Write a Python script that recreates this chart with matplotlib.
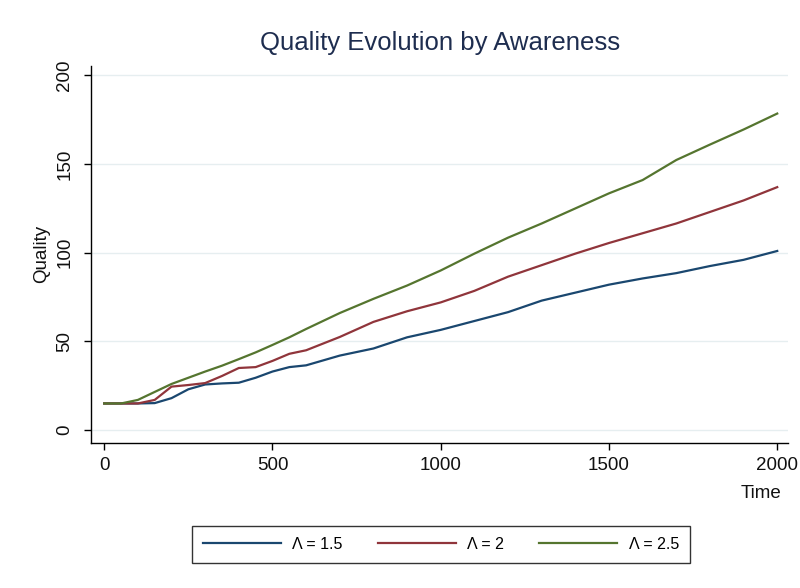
import matplotlib
matplotlib.use("Agg")
import matplotlib.pyplot as plt

plt.rcParams['font.family'] = ['Liberation Sans', 'DejaVu Sans']

# values
time = [0, 50, 100, 150, 200, 250, 300, 350, 400, 450, 500, 550, 600,
        700, 800, 900, 1000, 1100, 1200, 1300, 1400, 1500, 1600, 1700,
        1800, 1900, 2000]
q_15 = [15, 15, 15, 15.2, 18, 23, 25.7, 26.3, 26.7, 29.5, 33, 35.5, 36.5,
        42, 46, 52.3, 56.5, 61.5, 66.5, 73, 77.5, 82, 85.5, 88.5,
        92.5, 96, 101]
q_20 = [15, 15, 15, 17, 24.5, 25.4, 26.5, 30.5, 35, 35.5, 39, 43, 45,
        52.5, 61, 67, 72, 78.5, 86.5, 93, 99.5, 105.5, 111, 116.5,
        123, 129.5, 137]
q_25 = [15, 15, 17, 21.5, 26, 29.5, 33, 36.3, 40, 43.8, 48, 52.3, 57,
        66, 74, 81.5, 90, 99.5, 108.5, 116.5, 125, 133.5, 141, 152.3,
        161, 169.5, 178.5]
series_labels = ["Λ = 1.5", "Λ = 2", "Λ = 2.5"]
colors = ["#1a476f", "#90353b", "#55752f"]
yticks = [0, 50, 100, 150, 200]
xticks = [0, 500, 1000, 1500, 2000]

fig = plt.figure(figsize=(8, 5.88), dpi=100)
ax = fig.add_axes([0.114, 0.2466, 0.871, 0.642])

for ys, lab, c in zip([q_15, q_20, q_25], series_labels, colors):
    ax.plot(time, ys, color=c, lw=1.6, label=lab)

ax.set_xlim(-38.7, 2032)
ax.set_ylim(-7.3, 205.6)
ax.set_xticks(xticks)
ax.set_yticks(yticks)
ax.grid(axis='y', color='#e6eef0', lw=1)
ax.set_axisbelow(True)

for s in ['top', 'right']:
    ax.spines[s].set_visible(False)
for s in ['left', 'bottom']:
    ax.spines[s].set_color('black')
    ax.spines[s].set_linewidth(1)

ax.tick_params(axis='both', labelsize=13.5, length=5, width=1, color='black', labelcolor='#111111')
ax.tick_params(axis='y', pad=8)
ax.tick_params(axis='x', pad=5)
for t in ax.get_yticklabels():
    t.set_rotation(90)
    t.set_va('center')

ax.set_ylabel("Quality", fontsize=13.5, color='#111111', labelpad=4)
ax.set_xlabel("Time", fontsize=13.5, color='#111111', ha='right', va='center')
ax.xaxis.set_label_coords(0.99, -0.134)

fig.text(0.55, 0.927, "Quality Evolution by Awareness", ha='center', va='center',
         fontsize=18.5, color='#1e2d4f')

leg = fig.legend(loc='center', bbox_to_anchor=(0.551, 0.074), ncol=3,
                 fontsize=11.5, frameon=True, fancybox=False, handlelength=4.9,
                 handletextpad=0.7, columnspacing=2.2, borderpad=0.7)
leg.get_frame().set_edgecolor('black')
leg.get_frame().set_linewidth(1)

fig.savefig("out.png", dpi=100, facecolor='white')
